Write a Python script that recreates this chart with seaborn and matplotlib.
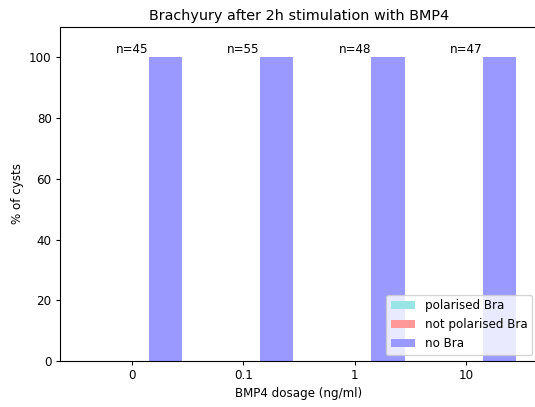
import matplotlib
matplotlib.use("Agg")
import matplotlib.pyplot as plt
import seaborn as sns
import pandas as pd

doses = ["0", "0.1", "1", "10"]
polarised = [0, 0, 0, 0]
not_polarised = [0, 0, 0, 0]
no_bra = [100, 100, 100, 100]
n_cysts = [45, 55, 48, 47]

series = ["polarised Bra", "not polarised Bra", "no Bra"]
colors = ["#99e5e5", "#ff9999", "#9999ff"]

df = pd.DataFrame({
    "dose": doses * 3,
    "pct": polarised + not_polarised + no_bra,
    "group": [s for s in series for _ in doses],
})

plt.rcParams.update({
    "font.size": 8.6,
    "xtick.major.size": 3.0,
    "ytick.major.size": 3.0,
    "xtick.major.pad": 3.0,
    "ytick.major.pad": 3.0,
    "axes.labelpad": 3.3,
    "axes.linewidth": 0.8,
})
fig = plt.figure(figsize=(5.35, 4.07), dpi=100)
ax = fig.add_axes([60 / 535, 46 / 407, 478 / 535, 334 / 407])

sns.barplot(data=df, x="dose", y="pct", hue="group", hue_order=series,
            palette=colors, width=0.9, saturation=1, errorbar=None, ax=ax)

for i, n in enumerate(n_cysts):
    ax.text(i, 100.5, f"n={n}", ha="center", va="bottom", fontsize=8.6)

ax.set_xlim(-0.645, 3.645)
ax.set_ylim(0, 110)
ax.set_xlabel("BMP4 dosage (ng/ml)")
ax.set_ylabel("% of cysts")
ax.set_title("Brachyury after 2h stimulation with BMP4", fontsize=10.4, pad=5)
ax.spines["right"].set_visible(False)
ax.legend(loc="lower right", title=None)

fig.savefig("out.png", dpi=100)
